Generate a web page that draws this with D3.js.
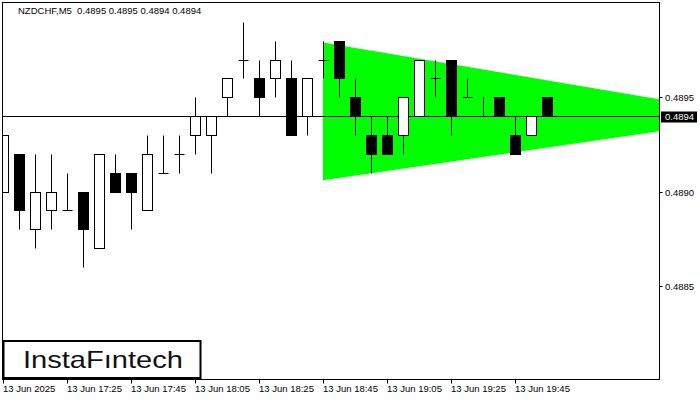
<!DOCTYPE html>
<html>
<head>
<meta charset="utf-8">
<script src="https://cdn.jsdelivr.net/npm/d3@7"></script>
<style>
  html, body { margin: 0; padding: 0; background: #fff; }
  svg { display: block; }
  text { font-family: "Liberation Sans", Arial, sans-serif; white-space: pre; }
</style>
</head>
<body>
<svg id="chart" width="700" height="400"></svg>
<script>
// ---- data (NZDCHF M5, 13 Jun 2025, from 17:05) ----
const symbolTitle = "NZDCHF,M5  0.4895 0.4895 0.4894 0.4894";
const startTime = "2025-06-13T17:05:00";
const opens  = [0.4890,0.4892,0.4888,0.4889,0.4889,0.4890,0.4887,0.4891,0.4891,0.4889,0.4891,0.4892,0.4893,0.4893,0.4895,0.4897,0.4896,0.4896,0.4896,0.4894,0.4897,0.4898,0.4895,0.4893,0.4893,0.4893,0.4894,0.4896,0.4897,0.4895,0.4894,0.4895,0.4893,0.4893,0.4895];
const highs  = [0.4893,0.4892,0.4892,0.4892,0.4891,0.4890,0.4892,0.4892,0.4891,0.4893,0.4893,0.4893,0.4895,0.4894,0.4896,0.4899,0.4897,0.4898,0.4897,0.4896,0.4898,0.4898,0.4896,0.4894,0.4894,0.4895,0.4897,0.4897,0.4897,0.4896,0.4895,0.4895,0.4894,0.4894,0.4895];
const lows   = [0.4890,0.4888,0.4887,0.4888,0.4889,0.4886,0.4887,0.4890,0.4888,0.4889,0.4891,0.4891,0.4892,0.4891,0.4894,0.4896,0.4894,0.4895,0.4893,0.4893,0.4896,0.4895,0.4893,0.4891,0.4892,0.4892,0.4894,0.4895,0.4893,0.4895,0.4894,0.4894,0.4892,0.4893,0.4894];
const closes = [0.4893,0.4889,0.4890,0.4890,0.4889,0.4888,0.4892,0.4890,0.4890,0.4892,0.4891,0.4892,0.4894,0.4894,0.4896,0.4897,0.4895,0.4897,0.4893,0.4896,0.4897,0.4896,0.4894,0.4892,0.4892,0.4895,0.4897,0.4896,0.4894,0.4895,0.4894,0.4894,0.4892,0.4894,0.4894];
const currentPrice = 0.4894;
const yTicks = [0.4885, 0.4890, 0.4895];
const xTickTimes  = ["17:05","17:25","17:45","18:05","18:25","18:45","19:05","19:25","19:45"];
const xTickLabels = ["13 Jun 2025","13 Jun 17:25","13 Jun 17:45","13 Jun 18:05","13 Jun 18:25","13 Jun 18:45","13 Jun 19:05","13 Jun 19:25","13 Jun 19:45"];
// triangle pattern: start/end times and prices of the upper and lower borders
const triTimes = ["18:45", "20:30"];
const triUpper = [0.48979, 0.48949];
const triLower = [0.48906, 0.48932];
const logoText = "InstaFıntech";

// ---- layout ----
const svg = d3.select("#chart");
const frame = { left: 2.5, right: 659.5, top: 2.5, bottom: 379.5 };
const t0 = new Date(startTime);
const toTime = hm => { const [h, m] = hm.split(":").map(Number); const d = new Date(t0); d.setHours(h, m, 0, 0); return d; };
const times = opens.map((_, i) => new Date(t0.getTime() + i * 5 * 60000));

const x = d3.scaleTime().domain([toTime("17:05"), toTime("19:45")]).range([3, 515]);
const y = d3.scaleLinear().domain([0.4880, 0.4900]).range([380, 3]);
const py = v => Math.round(y(v)) + 0.5;
const px = d => Math.round(x(d)) + 0.5;

// clip
svg.append("clipPath").attr("id", "plotclip").append("rect")
  .attr("x", frame.left).attr("y", frame.top)
  .attr("width", frame.right - frame.left).attr("height", frame.bottom - frame.top);
const plot = svg.append("g").attr("clip-path", "url(#plotclip)");

// triangle
const triX = triTimes.map(toTime);
const triPts = [
  [x(triX[0]), y(triUpper[0])], [x(triX[1]), y(triUpper[1])],
  [x(triX[1]), y(triLower[1])], [x(triX[0]), y(triLower[0])]
];
plot.append("path").attr("d", d3.line()(triPts) + "Z").attr("fill", "#00ff00");

// current price line
plot.append("line")
  .attr("x1", frame.left).attr("x2", frame.right)
  .attr("y1", py(currentPrice)).attr("y2", py(currentPrice))
  .attr("stroke", "#000").attr("stroke-width", 1);

// candles
const candles = opens.map((o, i) => ({ t: times[i], o, h: highs[i], l: lows[i], c: closes[i] }));
const g = plot.append("g").selectAll("g").data(candles).join("g");
g.append("line")
  .attr("x1", d => px(d.t)).attr("x2", d => px(d.t))
  .attr("y1", d => py(d.h)).attr("y2", d => py(d.l))
  .attr("stroke", "#000").attr("stroke-width", 1);
g.filter(d => d.o !== d.c).append("rect")
  .attr("x", d => px(d.t) - 5).attr("width", 10)
  .attr("y", d => py(Math.max(d.o, d.c)))
  .attr("height", d => py(Math.min(d.o, d.c)) - py(Math.max(d.o, d.c)))
  .attr("fill", d => d.c > d.o ? "#fff" : "#000")
  .attr("stroke", "#000").attr("stroke-width", 1);
g.filter(d => d.o === d.c).append("line")
  .attr("x1", d => px(d.t) - 5).attr("x2", d => px(d.t) + 5)
  .attr("y1", d => py(d.o)).attr("y2", d => py(d.o))
  .attr("stroke", "#000").attr("stroke-width", 1);

// frame
svg.append("rect")
  .attr("x", frame.left).attr("y", frame.top)
  .attr("width", frame.right - frame.left).attr("height", frame.bottom - frame.top)
  .attr("fill", "none").attr("stroke", "#000").attr("stroke-width", 1);

// right axis
const yAxis = svg.append("g");
yTicks.forEach(v => {
  yAxis.append("line").attr("x1", frame.right).attr("x2", frame.right + 3)
    .attr("y1", py(v)).attr("y2", py(v)).attr("stroke", "#000");
  yAxis.append("text").attr("x", 665).attr("y", py(v) + 3.5)
    .attr("font-size", "9.5px").attr("fill", "#000").text(d3.format(".4f")(v));
});
// current price tag
svg.append("rect").attr("x", 661).attr("y", py(currentPrice) - 5).attr("width", 36).attr("height", 11).attr("fill", "#000");
svg.append("text").attr("x", 665).attr("y", py(currentPrice) + 3.5)
  .attr("font-size", "9.5px").attr("fill", "#fff").text(d3.format(".4f")(currentPrice));

// bottom axis
const xAxis = svg.append("g");
xTickTimes.forEach((tm, i) => {
  const xx = px(toTime(tm));
  xAxis.append("line").attr("x1", xx).attr("x2", xx)
    .attr("y1", frame.bottom).attr("y2", frame.bottom + 4).attr("stroke", "#000");
  xAxis.append("text").attr("x", xx - 0.5).attr("y", 392)
    .attr("font-size", "9.5px").attr("fill", "#000").text(xTickLabels[i]);
});

// title
svg.append("text").attr("x", 18).attr("y", 14).attr("xml:space", "preserve")
  .attr("font-size", "9.5px").attr("fill", "#000").text(symbolTitle);

// logo
svg.append("rect").attr("x", 3.5).attr("y", 341).attr("width", 197).attr("height", 37)
  .attr("fill", "#fff").attr("stroke", "#000").attr("stroke-width", 2);
svg.append("text").attr("x", 23).attr("y", 367.5)
  .attr("font-family", "'Open Sans', sans-serif").attr("font-weight", 500)
  .attr("font-size", "24px").attr("fill", "#111")
  .attr("textLength", 160).attr("lengthAdjust", "spacingAndGlyphs")
  .text(logoText);
</script>
</body>
</html>
